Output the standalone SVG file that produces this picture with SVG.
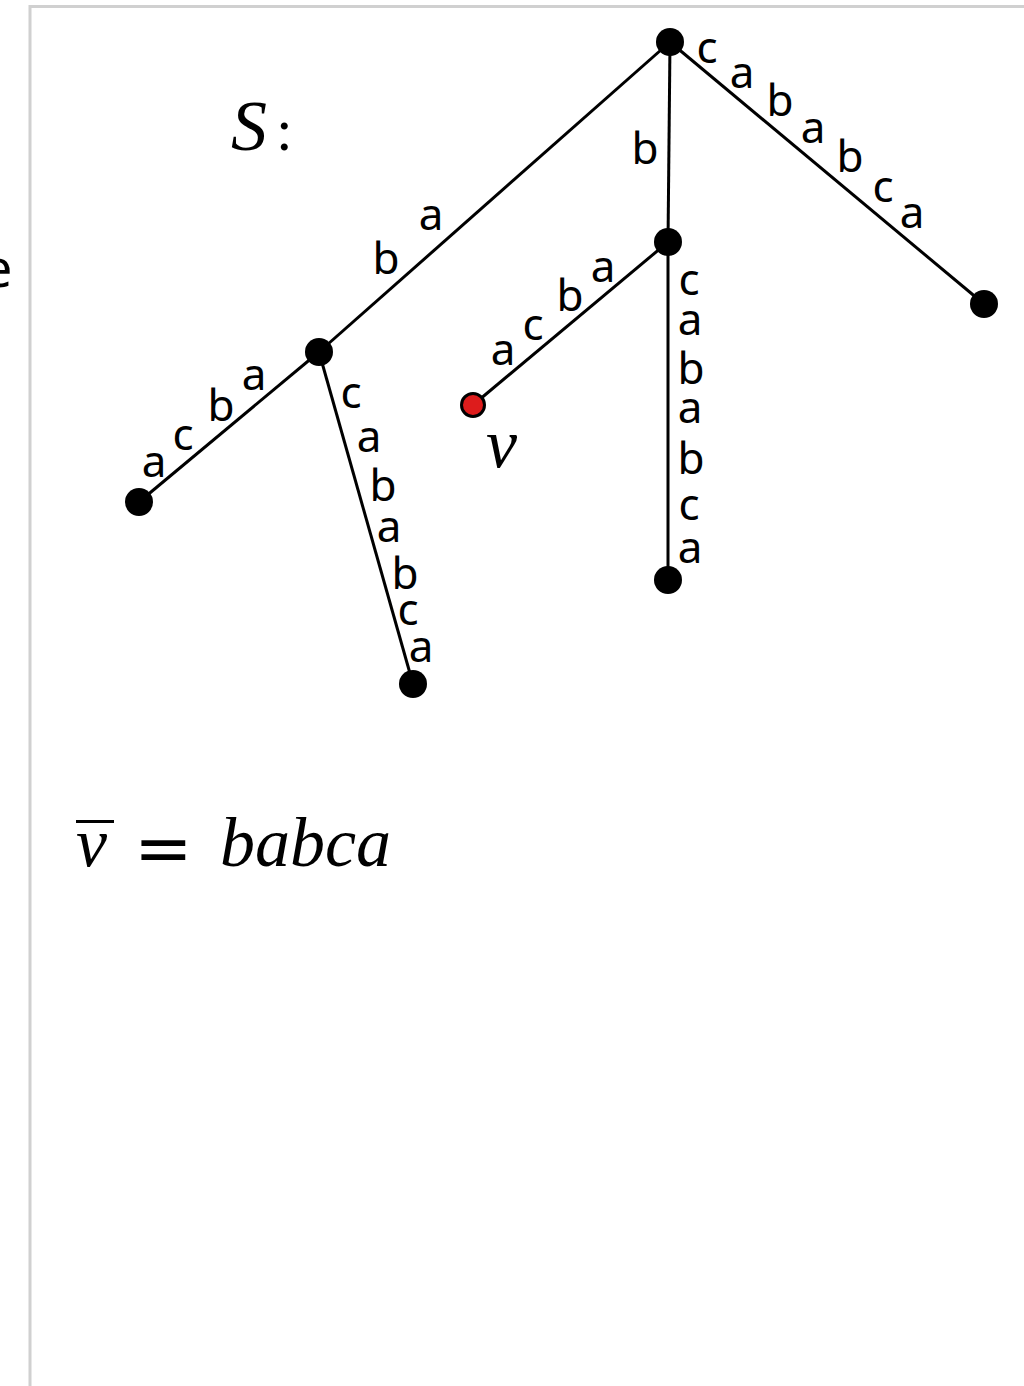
<svg xmlns="http://www.w3.org/2000/svg" width="1024" height="1386" viewBox="0 0 1024 1386">
<style>
.edge{stroke:#000;stroke-width:3;fill:none}
.node{fill:#000}
.lbl{font-family:"Noto Sans","Open Sans",sans-serif;font-size:44px;fill:#000;text-anchor:middle}
.math{font-family:"Liberation Serif","DejaVu Serif",serif;font-style:italic;fill:#000}
</style>
<rect width="1024" height="1386" fill="#fff"/>
<path d="M30,1386 V6.5 H1024" stroke="#d0d0d0" stroke-width="3" fill="none"/>
<text x="-17" y="287" font-family="Noto Sans, sans-serif" font-size="52" fill="#000">e</text>
<text class="math" x="231" y="150" font-size="72">S</text>
<text x="276" y="150" font-family="Liberation Serif, serif" font-size="60" fill="#000">:</text>
<g id="connectors">
<line class="edge" x1="670" y1="42" x2="319" y2="352"/>
<line class="edge" x1="670" y1="42" x2="668" y2="242"/>
<line class="edge" x1="670" y1="42" x2="984" y2="304"/>
<line class="edge" x1="319" y1="352" x2="139" y2="502"/>
<line class="edge" x1="319" y1="352" x2="413" y2="684"/>
<line class="edge" x1="668" y1="242" x2="473" y2="405"/>
<line class="edge" x1="668" y1="242" x2="668" y2="580"/>
</g>
<g id="edge-labels">
<text class="lbl" x="431" y="230">a</text>
<text class="lbl" x="386" y="274">b</text>
<text class="lbl" x="645" y="164">b</text>
<text class="lbl" x="707" y="63">c</text>
<text class="lbl" x="742" y="88">a</text>
<text class="lbl" x="780" y="116">b</text>
<text class="lbl" x="813" y="143">a</text>
<text class="lbl" x="850" y="172">b</text>
<text class="lbl" x="883" y="202">c</text>
<text class="lbl" x="912" y="228">a</text>
<text class="lbl" x="603" y="282">a</text>
<text class="lbl" x="570" y="311">b</text>
<text class="lbl" x="533" y="340">c</text>
<text class="lbl" x="503" y="365">a</text>
<text class="lbl" x="689" y="295">c</text>
<text class="lbl" x="690" y="335">a</text>
<text class="lbl" x="691" y="384">b</text>
<text class="lbl" x="690" y="423">a</text>
<text class="lbl" x="691" y="474">b</text>
<text class="lbl" x="689" y="520">c</text>
<text class="lbl" x="690" y="563">a</text>
<text class="lbl" x="254" y="390">a</text>
<text class="lbl" x="221" y="421">b</text>
<text class="lbl" x="183" y="450">c</text>
<text class="lbl" x="154" y="477">a</text>
<text class="lbl" x="351" y="408">c</text>
<text class="lbl" x="369" y="452">a</text>
<text class="lbl" x="383" y="501">b</text>
<text class="lbl" x="389" y="542">a</text>
<text class="lbl" x="405" y="589">b</text>
<text class="lbl" x="408" y="625">c</text>
<text class="lbl" x="421" y="662">a</text>
</g>
<g id="root"><circle class="node" cx="670" cy="42" r="14"/></g>
<g id="node-b"><circle class="node" cx="668" cy="242" r="14"/></g>
<g id="node-left"><circle class="node" cx="319" cy="352" r="14"/></g>
<g id="leaf-ll"><circle class="node" cx="139" cy="502" r="14"/></g>
<g id="leaf-lb"><circle class="node" cx="413" cy="684" r="14"/></g>
<g id="leaf-mid"><circle class="node" cx="668" cy="580" r="14"/></g>
<g id="leaf-right"><circle class="node" cx="984" cy="304" r="14"/></g>
<g id="node-v"><circle cx="473" cy="405" r="11.5" fill="#dd1c1c" stroke="#000" stroke-width="3"/>
<text class="math" x="486" y="467" font-size="70">v</text></g>
<g id="formula">
<text class="math" x="76" y="866" font-size="70">v</text>
<line x1="76" y1="821.5" x2="114" y2="821.5" stroke="#000" stroke-width="3"/>
<text x="134" y="872" font-family="DejaVu Sans, sans-serif" font-size="70" fill="#000">=</text>
<text class="math" x="220" y="866" font-size="70">babca</text>
</g>
</svg>
